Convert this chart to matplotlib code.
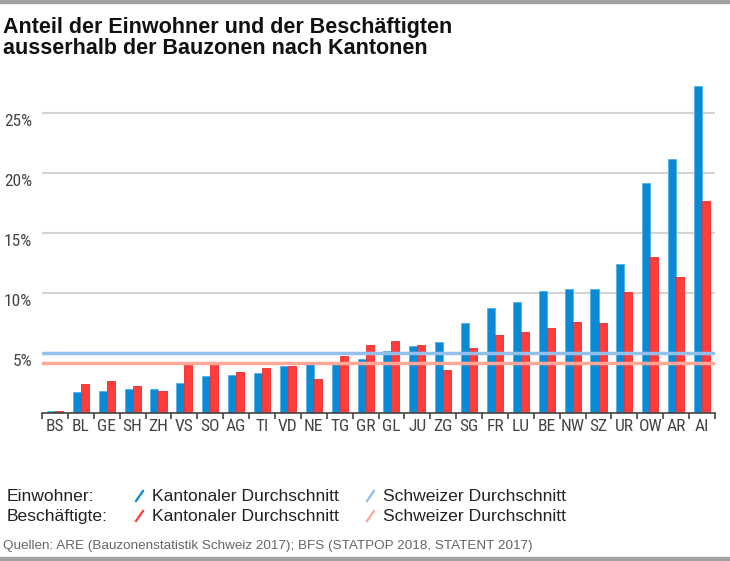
import matplotlib
matplotlib.use("Agg")
import matplotlib.pyplot as plt
from matplotlib.lines import Line2D
import numpy as np

plt.rcParams['font.family'] = ['Liberation Sans', 'DejaVu Sans']
COND = ['Roboto Condensed', 'DejaVu Sans']

# data (percent)
kantone = ["BS", "BL", "GE", "SH", "ZH", "VS", "SO", "AG", "TI", "VD", "NE", "TG", "GR",
           "GL", "JU", "ZG", "SG", "FR", "LU", "BE", "NW", "SZ", "UR", "OW", "AR", "AI"]
einwohner = [0.15, 1.72, 1.86, 1.97, 1.97, 2.47, 3.08, 3.19, 3.31, 3.94, 4.08, 4.08, 4.53,
             5.14, 5.56, 5.89, 7.5, 8.72, 9.22, 10.19, 10.31, 10.31, 12.42, 19.17, 21.14, 27.28]
beschaeftigte = [0.15, 2.44, 2.69, 2.22, 1.83, 4.06, 4.06, 3.42, 3.78, 3.92, 2.81, 4.78, 5.64,
                 6.03, 5.64, 3.56, 5.39, 6.53, 6.78, 7.11, 7.61, 7.47, 10.08, 13.03, 11.31, 17.69]
ch_einwohner = 5.03
ch_beschaeftigte = 4.17
yticks = [5, 10, 15, 20, 25]

BLUE = "#0a8ad4"
RED = "#ff3d3d"
LBLUE = "#92c0ea"
LRED = "#ffa898"
GRID = "#d4d4d4"
GREY_TXT = "#444444"

W, H = 730, 561
fig = plt.figure(figsize=(W / 100, H / 100), dpi=100)

x0, x1, y0 = 42, 715, 413
ymax = 27.5
ax = fig.add_axes([x0 / W, (H - y0) / H, (x1 - x0) / W, ymax * 12 / H])

x = np.arange(len(kantone))
w = 0.31
for v in yticks:
    ax.axhline(v, color=GRID, lw=1.5, zorder=0)
    ax.text(-0.0145, v - 0.75, f"{v}%", transform=ax.get_yaxis_transform(),
            ha="right", va="center", fontsize=12.5, color=GREY_TXT, family=COND)

ax.bar(x - w / 2, einwohner, w, color=BLUE, edgecolor="#4fb2ea", lw=0.6, zorder=2)
ax.bar(x + w / 2, beschaeftigte, w, color=RED, edgecolor="#f02a2a", lw=0.6, zorder=2)
ax.axhline(ch_einwohner, color=LBLUE, lw=2.5, zorder=3)
ax.axhline(ch_beschaeftigte, color=LRED, lw=2.5, zorder=3)

ax.set_xlim(-0.5, len(kantone) - 0.5)
ax.set_ylim(0, ymax)
for s in ["top", "right", "left"]:
    ax.spines[s].set_visible(False)
ax.spines["bottom"].set_color("#444444")
ax.spines["bottom"].set_linewidth(1.2)
ax.set_yticks([])
ax.set_xticks(np.arange(len(kantone) + 1) - 0.5, minor=True)
ax.set_xticks(x)
ax.set_xticklabels(kantone, fontsize=12.5, color=GREY_TXT, family=COND)
ax.tick_params(axis="x", which="major", length=0, pad=4)
ax.tick_params(axis="x", which="minor", length=4, width=1.2, color="#444444")

# title
fig.text(3 / W, 1 - 33 / H, "Anteil der Einwohner und der Beschäftigten",
         ha="left", va="baseline", fontsize=15.5, fontweight="bold", color="#111111")
fig.text(3 / W, 1 - 54 / H, "ausserhalb der Bauzonen nach Kantonen",
         ha="left", va="baseline", fontsize=15.5, fontweight="bold", color="#111111")

# legend
def slash(xp, yp, color):
    fig.add_artist(Line2D([xp / W, (xp + 7) / W], [1 - yp / H, 1 - (yp - 10) / H],
                          transform=fig.transFigure, color=color, lw=1.6))

rows = [("Einwohner:", BLUE, LBLUE, 501), ("Beschäftigte:", RED, LRED, 521)]
for lab, c1, c2, yy in rows:
    fig.text(7 / W, 1 - yy / H, lab, ha="left", va="baseline", fontsize=12.6, color="#222222")
    slash(136, yy, c1)
    fig.text(152 / W, 1 - yy / H, "Kantonaler Durchschnitt", ha="left", va="baseline", fontsize=12.6, color="#222222")
    slash(367, yy, c2)
    fig.text(383 / W, 1 - yy / H, "Schweizer Durchschnitt", ha="left", va="baseline", fontsize=12.6, color="#222222")

fig.text(3 / W, 1 - 549 / H, "Quellen: ARE (Bauzonenstatistik Schweiz 2017); BFS (STATPOP 2018, STATENT 2017)",
         ha="left", va="baseline", fontsize=9.7, color="#666666")

# grey frame bars top and bottom
fig.add_artist(plt.Rectangle((0, 1 - 3 / H), 1, 3 / H, transform=fig.transFigure, color="#a0a0a0"))
fig.add_artist(plt.Rectangle((0, 0), 1, 4 / H, transform=fig.transFigure, color="#a0a0a0"))

fig.savefig("out.png", dpi=100)
